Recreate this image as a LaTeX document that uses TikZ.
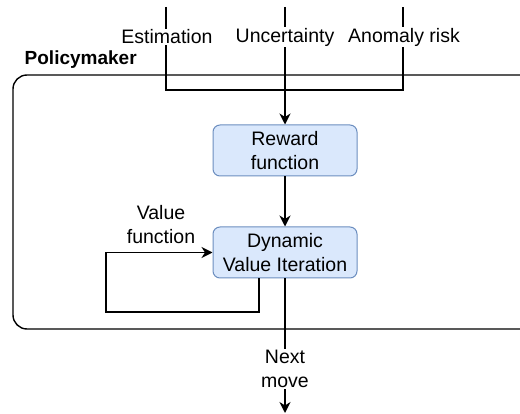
\documentclass[tikz,border=0pt]{standalone}
\usepackage{fontspec}
\setmainfont{Liberation Sans}
\usetikzlibrary{arrows.meta}
\definecolor{boxfill}{HTML}{DAE8FC}
\definecolor{boxline}{HTML}{6C8EBF}
\begin{document}
\begin{tikzpicture}[x=1pt,y=-1pt,line width=1.4pt,
  txt/.style={font=\fontsize{19.5}{24}\selectfont},
  box/.style={txt,draw=boxline,fill=boxfill,rounded corners=7pt,line width=1pt,minimum width=144pt,minimum height=51pt,align=center,inner sep=0pt},
  lbl/.style={txt,fill=white,inner sep=1pt,align=center},
  arr/.style={-{Stealth[length=11pt,width=11pt,inset=3.5pt]}}]
\useasboundingbox (0,0) rectangle (520,414);
% outer container
\draw[rounded corners=14pt] (13,75) rectangle (545,329);
\node[font=\bfseries\fontsize{19}{22}\selectfont,anchor=west,inner sep=0pt] (pm) at (24,60) {Policymaker};
% boxes
\node[box] (rf) at (285,150.5) {Reward\\function};
\node[box] (dvi) at (285,252.5) {Dynamic\\Value Iteration};
% inputs
\coordinate (e0) at (166,7);
\coordinate (u0) at (285,7);
\coordinate (a0) at (403,7);
\coordinate (e1) at (166,90);
\coordinate (a1) at (403,90);
\draw (e0) -- (e1) -- (a1) -- (a0);
\draw[arr] (u0) -- (rf.north);
\node[lbl] (el) at (167,37) {Estimation};
\node[lbl] (ul) at (285,37) {Uncertainty};
\node[lbl] (al) at (404,37) {Anomaly risk};
% internal
\draw[arr] (rf) -- (dvi);
\coordinate (lc) at (106,312);
\draw[arr] ([xshift=-26pt]dvi.south) |- (lc) |- (dvi.west);
\node[txt,align=center,inner sep=0pt] (vf) at (161,225) {Value\\function};
% output
\coordinate (out) at (285,413);
\draw[arr] (dvi) -- (out);
\node[lbl] (nm) at (285,369) {Next\\move};
\end{tikzpicture}
\end{document}
